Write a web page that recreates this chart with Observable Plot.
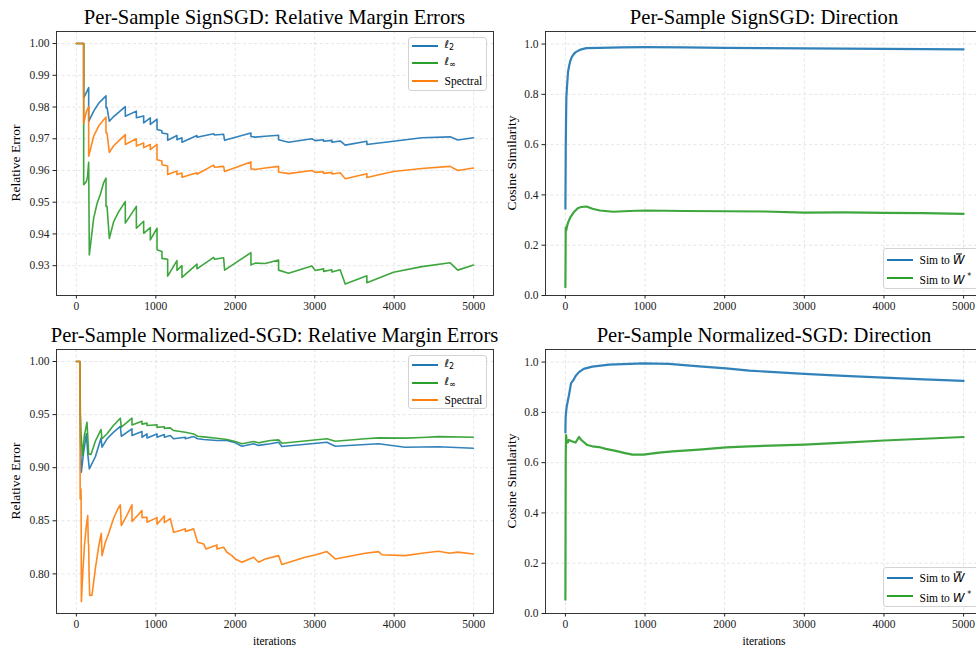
<!DOCTYPE html>
<html><head><meta charset="utf-8">
<script src="https://cdn.jsdelivr.net/npm/d3@7"></script>
<script src="https://cdn.jsdelivr.net/npm/@observablehq/plot@0.6"></script>
<style>
html,body{margin:0;padding:0;background:#fff;overflow:hidden;width:976px;height:648px;}
#root{position:relative;width:976px;height:648px;overflow:hidden;font-family:"Liberation Serif","Times New Roman",serif;color:#000;}
.panel{position:absolute;}
.title{position:absolute;font-size:20.6px;line-height:21px;white-space:nowrap;transform:translate(-50%,-50%);}
.ylab{position:absolute;font-size:13.5px;line-height:14px;white-space:nowrap;transform:translate(-50%,-50%) rotate(-90deg);}
.xlab{position:absolute;font-size:11.5px;line-height:12px;white-space:nowrap;transform:translate(-50%,-50%);}
.legend{position:absolute;border:1px solid #d3d3d3;border-radius:3px;background:rgba(255,255,255,0.85);box-sizing:border-box;}
.legtext{position:absolute;font-size:11.5px;line-height:13px;white-space:nowrap;transform:translateY(-50%);}
.m{font-family:"DejaVu Sans",sans-serif;font-style:italic;font-size:11px;}
.bar{position:relative;display:inline-block;}
.bar::before{content:"";position:absolute;left:3px;top:0px;width:6px;height:1px;background:#000;}
</style>
</head><body><div id="root"></div>
<script>
// ---------- data ----------
const xTicks = [0, 1000, 2000, 3000, 4000, 5000];
const errTicksTop = [0.93, 0.94, 0.95, 0.96, 0.97, 0.98, 0.99, 1.00];
const errTicksBottom = [0.80, 0.85, 0.90, 0.95, 1.00];
const simTicks = [0.0, 0.2, 0.4, 0.6, 0.8, 1.0];

const errNames = ["l2", "linf", "Spectral"];
const simNames = ["Sim to W-bar", "Sim to W*"];
const colors = {l2: "#1f77b4", linf: "#2ca02c", Spectral: "#ff7f0e", "Sim to W-bar": "#1f77b4", "Sim to W*": "#2ca02c"};

const titles = ["Per-Sample SignSGD: Relative Margin Errors", "Per-Sample SignSGD: Direction",
                "Per-Sample Normalized-SGD: Relative Margin Errors", "Per-Sample Normalized-SGD: Direction"];

// SignSGD relative margin errors [iteration, value]
const signL2 = [[0,1.0],[92,1.0],[92,0.9829],[125,0.9845],[155,0.9861],[155,0.9755],[218,0.9787],[281,0.9812],[344,0.9828],[373,0.9835],[373,0.9798],[386,0.9798],[415,0.9755],[470,0.977],[553,0.9788],[616,0.9801],[616,0.9771],[755,0.9787],[755,0.9766],[847,0.9772],[847,0.975],[931,0.9766],[931,0.9745],[1015,0.9762],[1015,0.9729],[1077,0.9725],[1077,0.9718],[1149,0.9715],[1149,0.9695],[1266,0.971],[1266,0.9697],[1329,0.9703],[1329,0.9689],[1518,0.971],[1518,0.9705],[1727,0.9716],[1740,0.9712],[1853,0.9714],[1866,0.9695],[2197,0.9718],[2197,0.9707],[2252,0.9705],[2377,0.9708],[2545,0.9711],[2545,0.9697],[2670,0.9689],[2964,0.97],[3006,0.9694],[3111,0.9697],[3111,0.9692],[3216,0.9695],[3216,0.9689],[3320,0.9693],[3384,0.968],[3656,0.9692],[3656,0.9682],[3991,0.9692],[4348,0.9703],[4704,0.9706],[4801,0.9696],[4998,0.9703]];
const signLinf = [[0,1.0],[92,1.0],[92,0.9555],[126,0.9565],[140,0.958],[155,0.9626],[163,0.9334],[218,0.945],[260,0.9495],[302,0.9525],[344,0.9562],[373,0.9576],[373,0.9487],[386,0.9487],[415,0.9386],[470,0.9439],[533,0.947],[574,0.9486],[616,0.9502],[616,0.9434],[755,0.9487],[755,0.9418],[847,0.944],[847,0.9402],[931,0.942],[931,0.9381],[1015,0.9418],[1015,0.935],[1077,0.9345],[1077,0.9323],[1149,0.932],[1149,0.9267],[1266,0.9316],[1266,0.9285],[1329,0.93],[1329,0.9263],[1518,0.9305],[1518,0.929],[1727,0.9326],[1740,0.932],[1853,0.9325],[1866,0.9286],[2197,0.9341],[2197,0.9302],[2252,0.9308],[2377,0.9307],[2545,0.9318],[2545,0.9286],[2670,0.9276],[2964,0.9299],[3006,0.9285],[3111,0.929],[3111,0.9282],[3216,0.9287],[3216,0.928],[3320,0.9287],[3384,0.9242],[3656,0.9268],[3656,0.9246],[3991,0.9279],[4348,0.9297],[4704,0.9309],[4801,0.9286],[4998,0.9302]];
const signSpec = [[0,1.0],[92,1.0],[92,0.9748],[125,0.9785],[155,0.9801],[155,0.9645],[218,0.9708],[281,0.974],[344,0.976],[373,0.9768],[373,0.9718],[386,0.9718],[415,0.9657],[470,0.9678],[553,0.9698],[616,0.9713],[616,0.9682],[755,0.97],[755,0.9677],[847,0.9687],[847,0.9672],[931,0.9682],[931,0.9666],[1015,0.9682],[1015,0.9634],[1077,0.963],[1077,0.9618],[1149,0.9614],[1149,0.9587],[1266,0.9598],[1266,0.9587],[1329,0.9592],[1329,0.9579],[1518,0.9593],[1518,0.9588],[1727,0.9617],[1740,0.961],[1853,0.9613],[1866,0.9597],[2197,0.9627],[2197,0.9605],[2252,0.9603],[2377,0.9608],[2545,0.9613],[2545,0.9595],[2670,0.959],[2964,0.96],[3006,0.9594],[3111,0.9596],[3111,0.9591],[3216,0.9594],[3216,0.9589],[3320,0.9593],[3384,0.9574],[3656,0.959],[3656,0.9578],[3991,0.9597],[4348,0.9606],[4704,0.9613],[4801,0.96],[4998,0.9608]];

// Normalized-SGD relative margin errors
const normL2 = [[0,1.0],[45,1.0],[50,0.93],[63,0.8957],[92,0.915],[126,0.9319],[145,0.912],[163,0.8989],[239,0.9103],[310,0.9278],[323,0.9193],[386,0.9272],[469,0.9335],[553,0.939],[566,0.9296],[700,0.9366],[700,0.9303],[826,0.934],[826,0.9287],[889,0.9318],[889,0.928],[1015,0.9318],[1015,0.9287],[1107,0.9312],[1107,0.9287],[1182,0.9303],[1224,0.9272],[1371,0.9287],[1371,0.9272],[1476,0.9293],[1526,0.9272],[1602,0.9265],[1769,0.9256],[1895,0.9256],[2000,0.9234],[2084,0.9202],[2230,0.9225],[2293,0.921],[2440,0.9225],[2545,0.924],[2587,0.9199],[3153,0.924],[3258,0.9202],[3803,0.9225],[4138,0.9193],[4557,0.9197],[4998,0.9183]];
const normLinf = [[0,1.0],[45,1.0],[50,0.9523],[60,0.93],[80,0.9114],[100,0.93],[134,0.9428],[155,0.913],[184,0.9125],[239,0.925],[310,0.9359],[323,0.9272],[386,0.932],[469,0.94],[553,0.9466],[566,0.9381],[700,0.9466],[700,0.9403],[826,0.9438],[826,0.941],[889,0.942],[889,0.9397],[1015,0.9405],[1015,0.938],[1107,0.9385],[1107,0.937],[1182,0.9375],[1224,0.935],[1371,0.9334],[1476,0.9318],[1526,0.9296],[1602,0.929],[1769,0.9278],[1895,0.9265],[2000,0.9246],[2084,0.9225],[2230,0.9246],[2293,0.9234],[2440,0.9256],[2545,0.9262],[2587,0.923],[3153,0.9272],[3258,0.9249],[3635,0.9272],[3803,0.9281],[4138,0.9278],[4348,0.9284],[4557,0.9293],[4998,0.9287]];
const normSpec = [[0,1.0],[45,1.0],[48,0.8706],[55,0.874],[58,0.88],[60,0.8706],[63,0.7739],[80,0.8],[101,0.826],[125,0.845],[143,0.8549],[150,0.83],[155,0.8267],[160,0.8],[168,0.7796],[197,0.78],[239,0.8049],[281,0.826],[314,0.8383],[323,0.8172],[365,0.8298],[407,0.8383],[469,0.8524],[520,0.8609],[553,0.865],[566,0.8455],[637,0.8553],[700,0.865],[700,0.8493],[826,0.8596],[826,0.853],[889,0.8534],[889,0.8486],[1015,0.853],[1015,0.8468],[1107,0.8546],[1107,0.8483],[1182,0.8521],[1224,0.8392],[1308,0.8408],[1371,0.8424],[1371,0.8399],[1476,0.8424],[1526,0.8298],[1602,0.8282],[1631,0.8235],[1769,0.8273],[1769,0.8235],[1853,0.8251],[1895,0.8204],[1958,0.8172],[2000,0.8141],[2084,0.811],[2230,0.8157],[2293,0.811],[2377,0.8141],[2545,0.8172],[2587,0.8088],[2880,0.8156],[3006,0.8178],[3153,0.821],[3258,0.8141],[3635,0.8194],[3803,0.821],[3845,0.818],[4138,0.8172],[4348,0.8194],[4557,0.8213],[4700,0.8195],[4800,0.8205],[4998,0.8188]];

// Direction (cosine similarity)
const signSimBar = [[0,0.345],[2,0.45],[4,0.58],[8,0.7],[12,0.79],[20,0.83],[33,0.89],[48,0.915],[62,0.934],[80,0.948],[104,0.96],[130,0.968],[159,0.973],[200,0.979],[264,0.984],[432,0.985],[700,0.987],[1000,0.988],[1500,0.987],[2000,0.985],[2500,0.984],[3000,0.983],[3500,0.982],[4000,0.981],[4500,0.98],[5000,0.979]];
const signSimStar = [[0,0.033],[2,0.15],[4,0.27],[12,0.26],[20,0.275],[33,0.29],[62,0.311],[104,0.331],[159,0.348],[200,0.352],[264,0.354],[340,0.345],[432,0.338],[600,0.333],[800,0.336],[1000,0.338],[1500,0.336],[2000,0.335],[2500,0.334],[3000,0.33],[3500,0.331],[4000,0.329],[4500,0.328],[5000,0.325]];
const normSimBar = [[0,0.72],[3,0.78],[8,0.8],[15,0.82],[30,0.845],[44,0.867],[70,0.915],[100,0.928],[128,0.945],[170,0.96],[230,0.973],[338,0.982],[550,0.99],[980,0.995],[1300,0.993],[1681,0.983],[2017,0.975],[2310,0.966],[3000,0.953],[3500,0.945],[4000,0.938],[4500,0.931],[5000,0.925]];
const normSimStar = [[0,0.055],[2,0.35],[4,0.62],[8,0.71],[15,0.69],[30,0.68],[44,0.69],[80,0.685],[128,0.68],[170,0.702],[200,0.69],[275,0.67],[338,0.665],[422,0.662],[506,0.655],[632,0.647],[750,0.638],[842,0.632],[980,0.632],[1177,0.64],[1345,0.645],[1681,0.652],[2017,0.661],[2310,0.665],[3000,0.672],[3500,0.68],[4000,0.688],[4500,0.695],[5000,0.702]];

// ---------- drawing ----------
const root = document.getElementById("root");

function makePanel({series, yDomain, yTicks, yFmt, left, top, width, height, ml, mr, mt, mb, sw}) {
  const rows = series.flatMap(s => s.pts.map(p => ({it: p[0], v: p[1], name: s.name})));
  const grid = {stroke: "#b0b0b0", strokeOpacity: 0.4, strokeDasharray: "3,2.5", strokeWidth: 0.8};
  const svg = Plot.plot({
    width, height, marginLeft: ml, marginRight: mr, marginTop: mt, marginBottom: mb,
    style: {fontFamily: "'Liberation Serif', 'Times New Roman', serif", fontSize: "11.5px", color: "#222", background: "transparent", overflow: "visible"},
    x: {domain: [-250, 5250]},
    y: {domain: yDomain},
    color: {domain: series.map(s => s.name), range: series.map(s => colors[s.name])},
    marks: [
      Plot.gridX(xTicks, grid),
      Plot.gridY(yTicks, grid),
      Plot.line(rows, {x: "it", y: "v", z: "name", stroke: "name", strokeWidth: sw, strokeOpacity: 0.92}),
      Plot.frame({stroke: "#222", strokeWidth: 0.9}),
      Plot.axisX(xTicks, {tickSize: 3.5, tickPadding: 3, tickFormat: d => String(d), label: null}),
      Plot.axisY(yTicks, {tickSize: 3.5, tickPadding: 3.5, tickFormat: yFmt, label: null})
    ]
  });
  svg.classList.add("panel");
  svg.style.left = left + "px";
  svg.style.top = top + "px";
  root.appendChild(svg);
}

function addText(cls, txt, x, y) {
  const d = document.createElement("div");
  d.className = cls;
  d.textContent = txt;
  d.style.left = x + "px";
  d.style.top = y + "px";
  root.appendChild(d);
}

const labelHtml = {
  l2: '<span class="m">ℓ</span><sub style="font-family:DejaVu Sans;font-size:8px;vertical-align:-2px">2</sub>',
  linf: '<span class="m">ℓ</span><sub style="font-family:DejaVu Sans;font-size:8px;vertical-align:-2px">∞</sub>',
  Spectral: 'Spectral',
  "Sim to W-bar": 'Sim to <span class="m bar" style="font-size:12px">W</span>',
  "Sim to W*": 'Sim to <span class="m" style="font-size:12px">W</span><sup style="font-family:DejaVu Sans;font-size:8px;vertical-align:5px"> *</sup>'
};

function addLegend(left, top, w, h, names, ys, lw) {
  const box = document.createElement("div");
  box.className = "legend";
  box.style.left = left + "px"; box.style.top = top + "px";
  box.style.width = w + "px"; box.style.height = h + "px";
  names.forEach((n, i) => {
    const ln = document.createElement("div");
    ln.style.cssText = `position:absolute;left:3px;top:${ys[i] - 1}px;width:25.5px;height:${lw}px;background:${colors[n]};`;
    box.appendChild(ln);
    const t = document.createElement("div");
    t.className = "legtext";
    t.style.left = "35.5px"; t.style.top = ys[i] + "px";
    t.innerHTML = labelHtml[n];
    box.appendChild(t);
  });
  root.appendChild(box);
}

const f2 = d3.format(".2f"), f1 = d3.format(".1f");

makePanel({series: [{name: "l2", pts: signL2}, {name: "linf", pts: signLinf}, {name: "Spectral", pts: signSpec}],
  yDomain: [0.9206, 1.0038], yTicks: errTicksTop, yFmt: f2,
  left: 0, top: 0, width: 500, height: 318, ml: 56, mr: 7, mt: 31, mb: 23, sw: 1.6});
makePanel({series: [{name: "Sim to W-bar", pts: signSimBar}, {name: "Sim to W*", pts: signSimStar}],
  yDomain: [0, 1.05], yTicks: simTicks, yFmt: f1,
  left: 500, top: 0, width: 483, height: 318, ml: 45, mr: 0, mt: 31, mb: 23, sw: 2.2});
makePanel({series: [{name: "l2", pts: normL2}, {name: "linf", pts: normLinf}, {name: "Spectral", pts: normSpec}],
  yDomain: [0.7627, 1.0113], yTicks: errTicksBottom, yFmt: f2,
  left: 0, top: 318, width: 500, height: 330, ml: 56, mr: 7, mt: 31, mb: 35, sw: 1.6});
makePanel({series: [{name: "Sim to W-bar", pts: normSimBar}, {name: "Sim to W*", pts: normSimStar}],
  yDomain: [0, 1.05], yTicks: simTicks, yFmt: f1,
  left: 500, top: 318, width: 483, height: 330, ml: 45, mr: 0, mt: 31, mb: 35, sw: 2.2});

addText("title", titles[0], 274.5, 17);
addText("title", titles[1], 764, 17);
addText("title", titles[2], 274.5, 335);
addText("title", titles[3], 764, 335);

addText("ylab", "Relative Error", 15.5, 163);
addText("ylab", "Cosine Similarity", 511.7, 163);
addText("ylab", "Relative Error", 15.5, 481);
addText("ylab", "Cosine Similarity", 511.7, 481);

addText("xlab", "iterations", 274.5, 641);
addText("xlab", "iterations", 764, 641);

addLegend(408, 37, 79, 54, errNames, [8, 25, 43], 2);
addLegend(408, 355, 79, 54, errNames, [9, 27, 44], 2);
addLegend(883, 248, 100, 41, simNames, [11, 29], 2);
addLegend(883, 567, 100, 40, simNames, [10, 28], 2);
</script>
</body></html>
